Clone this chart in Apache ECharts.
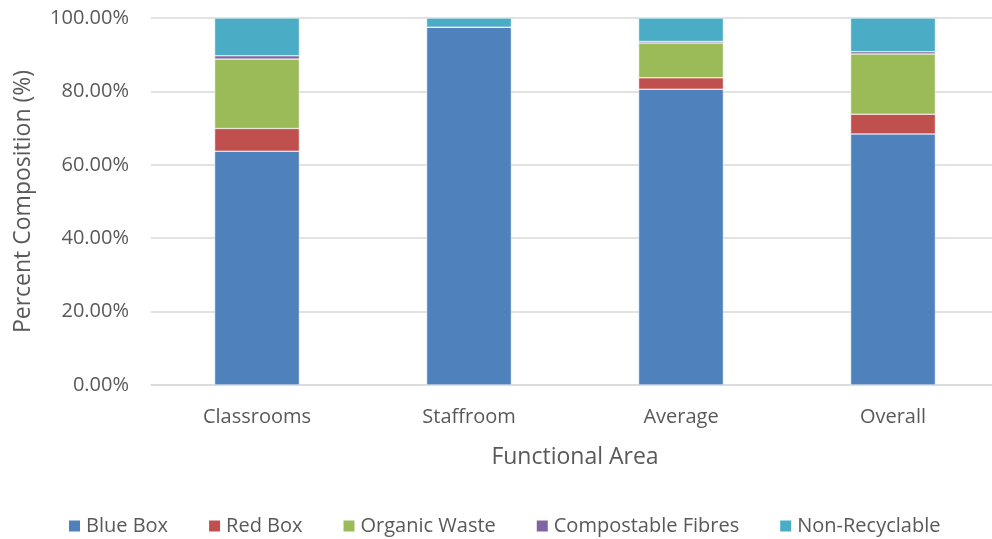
<!DOCTYPE html>
<html>
<head>
<meta charset="utf-8">
<script src="https://cdn.jsdelivr.net/npm/echarts@6/dist/echarts.min.js"></script>
<style>
  html, body { margin: 0; padding: 0; background: #fff; }
  #chart { width: 992px; height: 539px; }
</style>
</head>
<body>
<div id="chart"></div>
<script>
  // functional areas
  const categories = ['Classrooms', 'Staffroom', 'Average', 'Overall']
  // percent composition per waste stream
  const blueBox = [63.7, 97.5, 80.6, 68.4]
  const redBox = [6.2, 0, 3.1, 5.4]
  const organicWaste = [18.9, 0, 9.5, 16.4]
  const compostableFibres = [0.9, 0, 0.4, 0.6]
  const nonRecyclable = [10.3, 2.5, 6.4, 9.2]

  const textColor = '#595959'
  const font = 'Open Sans'

  function bar(name, data, color) {
    return {
      name: name,
      type: 'bar',
      stack: 'total',
      barWidth: '40%',
      data: data,
      itemStyle: { color: color, borderColor: '#ffffff', borderWidth: 0.5 }
    }
  }

  const chart = echarts.init(document.getElementById('chart'))
  chart.setOption({
    animation: false,
    textStyle: { fontFamily: font, color: textColor },
    grid: {
      left: 151,
      top: 18,
      right: -7,
      height: 367,
      outerBoundsMode: 'none'
    },
    legend: {
      bottom: -2,
      left: 62,
      itemWidth: 13,
      itemHeight: 13,
      itemGap: 39,
      icon: 'rect',
      textStyle: { fontFamily: font, fontSize: 20, color: textColor },
      data: ['Blue Box', 'Red Box', 'Organic Waste', 'Compostable Fibres', 'Non-Recyclable']
    },
    xAxis: {
      type: 'category',
      data: categories,
      name: 'Functional Area',
      nameLocation: 'middle',
      nameGap: 61,
      nameTextStyle: { fontFamily: font, fontSize: 23, color: textColor },
      axisLine: { lineStyle: { color: '#d9d9d9', width: 1.5 } },
      axisTick: { show: false },
      axisLabel: { fontFamily: font, fontSize: 20, color: textColor, margin: 22 }
    },
    yAxis: {
      type: 'value',
      min: 0,
      max: 100,
      interval: 20,
      name: 'Percent Composition (%)',
      nameLocation: 'middle',
      nameGap: 116,
      nameTextStyle: { fontFamily: font, fontSize: 23, color: textColor },
      axisLine: { show: false },
      axisTick: { show: false },
      splitLine: { lineStyle: { color: '#d9d9d9', width: 1.5 } },
      axisLabel: {
        fontFamily: font,
        fontSize: 20,
        color: textColor,
        margin: 22,
        formatter: v => v.toFixed(2) + '%'
      }
    },
    series: [
      bar('Blue Box', blueBox, '#4F81BD'),
      bar('Red Box', redBox, '#C0504D'),
      bar('Organic Waste', organicWaste, '#9BBB59'),
      bar('Compostable Fibres', compostableFibres, '#8064A2'),
      bar('Non-Recyclable', nonRecyclable, '#4BACC6')
    ]
  })
</script>
</body>
</html>
